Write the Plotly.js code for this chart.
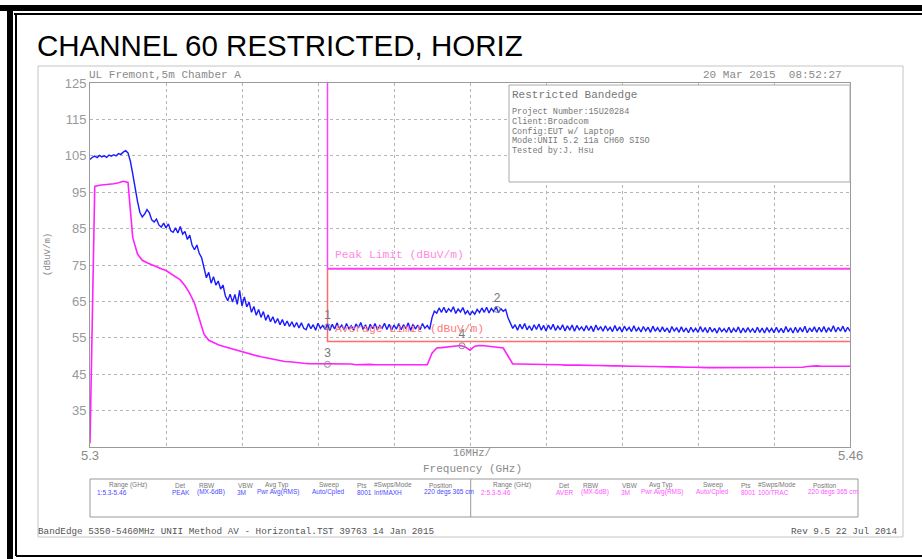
<!DOCTYPE html>
<html>
<head>
<meta charset="utf-8">
<script src="https://cdn.plot.ly/plotly-3.0.1.min.js"></script>
<style>html,body{margin:0;padding:0;background:#fff;}#chart{width:922px;height:559px;}</style>
</head>
<body>
<div id="chart"></div>
<script>
// ---------- DATA ----------
const sweepStartGHz = 5.300;
const peakStepGHz = 0.0005;
const avgStepGHz = 0.001;
const peakTrace = [
104.0,104.6,104.9,104.5,105.1,104.7,105.0,104.6,105.2,104.9,105.3,105.0,105.6,105.4,106.0,106.4,
105.8,103.5,100.0,96.0,92.5,89.5,88.2,89.0,90.2,89.3,
87.4,86.8,87.6,86.0,85.4,86.5,85.2,86.3,84.4,84.0,
85.2,83.8,85.6,83.5,84.2,82.0,83.2,80.4,79.2,80.5,
78.2,77.0,74.5,71.5,73.0,70.0,71.8,69.5,70.6,68.4,
69.5,66.5,65.2,67.0,64.8,66.9,64.2,68.0,63.8,66.2,
63.5,64.8,62.0,63.6,61.2,62.8,60.6,62.2,59.8,61.3,
59.4,60.8,59.0,60.3,58.6,60.0,58.3,59.6,58.1,59.4,
57.9,59.2,57.7,59.1,57.6,
57.2,58.9,57.5,58.6,57.1,59.0,57.6,58.4,57.3,58.8,
57.0,58.7,57.4,59.1,57.6,58.5,57.2,58.9,57.5,58.3,
57.1,58.8,57.7,59.2,57.3,58.6,57.0,58.7,57.5,58.9,
57.2,58.4,57.6,59.0,57.3,58.7,57.1,58.5,57.4,58.9,
57.2,58.6,57.5,59.1,57.0,58.8,57.4,58.5,57.2,58.9,
57.6,58.4,57.3,
60.5,62.3,
61.8,63.2,62.0,63.4,61.9,63.0,62.2,63.5,61.7,62.9,
62.1,63.3,61.6,62.4,61.2,62.3,61.5,62.8,61.9,63.2,
62.0,63.4,61.8,63.1,62.2,63.5,61.9,63.0,62.3,62.8,
60.5,58.8,57.6,
58.6,57.1,58.7,57.4,58.9,57.2,58.3,57.0,58.6,57.3,
58.8,57.1,58.4,56.9,58.5,57.3,58.7,57.0,58.2,57.2,
58.6,56.9,58.3,57.1,58.5,56.8,58.4,57.2,58.0,56.9,
58.4,57.0,58.2,56.7,58.5,57.1,58.1,56.8,58.3,57.0,
57.9,56.7,58.4,56.9,58.0,56.6,58.2,57.0,57.9,56.7,
58.3,56.8,57.8,56.6,58.1,56.9,57.9,56.5,58.2,56.8,
57.8,56.6,58.0,56.7,57.7,56.4,58.1,56.8,57.8,56.5,
58.0,56.6,57.7,56.4,57.9,56.7,57.6,56.5,58.1,56.6,
57.8,56.4,57.9,56.6,57.6,56.3,57.8,56.7,57.5,56.5,
57.9,56.4,57.6,56.6,58.0,56.3,57.7,56.5,57.8,56.6,
57.5,56.4,57.9,56.5,57.7,56.3,57.8,56.6,57.6,56.4,
57.9,56.5,57.6,56.4,58.1,56.6,57.7,56.3,57.9,56.5,
57.8,56.6,58.2,56.4,57.7,56.7,58.0,56.5,57.9,56.6,
58.1,56.5,57.8,56.7,58.3,56.6,57.9,56.8,58.2,56.6,
57.9,56.8];
const avgTrace = [
26.0,96.6,96.9,97.0,97.1,97.3,97.6,98.0,97.7,82.5,
78.0,76.3,75.6,75.0,74.5,74.0,73.5,72.6,71.8,70.9,
69.3,67.2,64.5,60.0,56.0,54.3,53.6,53.1,52.7,52.3,
51.9,51.5,51.2,50.9,50.5,50.1,49.8,49.5,49.2,48.9,
48.7,48.5,48.4,48.2,48.1,48.0,47.9,47.9,47.8,47.9,
47.8,47.7,47.8,47.7,47.7,47.8,47.6,47.7,47.6,47.7,
47.6,47.6,47.7,47.5,47.6,47.6,47.5,47.6,47.5,47.6,
47.5,47.6,50.8,52.2,52.3,52.5,52.6,52.8,52.9,52.5,
51.6,52.7,52.9,52.8,52.7,52.5,52.4,52.2,50.0,47.8,
47.8,47.8,47.7,47.8,47.7,47.7,47.6,47.7,47.6,47.6,
47.5,47.6,47.5,47.5,47.4,47.5,47.4,47.4,47.3,47.4,
47.3,47.3,47.2,47.3,47.2,47.2,47.1,47.2,47.1,47.1,
47.0,47.1,47.0,47.0,46.9,47.0,46.9,46.9,46.8,46.9,
46.8,46.8,46.8,46.9,46.7,46.8,46.7,46.8,46.7,46.7,
46.8,46.7,46.7,46.8,46.7,46.7,46.8,46.7,46.8,46.8,
46.9,47.1,47.3,47.3,47.2,47.3,47.2,47.2,47.3,47.2,
47.2];
const bandEdgeGHz = 5.35;
const stopGHz = 5.46;
const peakLimit = 74;
const avgLimit = 54;
const markerLabels = ["1","2","3","4"];
const markerFreq = [5.350, 5.3857, 5.350, 5.3783];
const markerLevel = [58.0, 62.8, 47.7, 52.8];
const yTickVals = [35,45,55,65,75,85,95,105,115,125];
const xGridVals = [5.3,5.316,5.332,5.348,5.364,5.38,5.396,5.412,5.428,5.444,5.46];
const xEndLabels = ["5.3","5.46"];
const xEndVals = [5.3,5.46];
const tableHeaders = ["Range (GHz)","Det","RBW","VBW","Avg Typ","Sweep","Pts","#Swps/Mode","Position"];
const tableRow1 = ["1:5.3-5.46","PEAK","(MX-6dB)","3M","Pwr Avg(RMS)","Auto/Cpled","8001","Inf/MAXH","220 degs 365 cm"];
const tableRow2 = ["2:5.3-5.46","AVER","(MX-6dB)","3M","Pwr Avg(RMS)","Auto/Cpled","8001","100/TRAC","220 degs 365 cm"];
const infoLines = ["Project Number:15U20284","Client:Broadcom","Config:EUT w/ Laptop","Mode:UNII 5.2 11a CH60 SISO","Tested by:J. Hsu"];

// ---------- BUILD ----------
const freqsPeak = peakTrace.map((_, i) => +(sweepStartGHz + i*peakStepGHz).toFixed(5));
const freqsAvg = avgTrace.map((_, i) => +(sweepStartGHz + i*avgStepGHz).toFixed(5));

const L=90, R=850, T=83, B=447;
const px = v => (v-L)/(R-L);
const py = v => (B-v)/(B-T);

const MONO = "Liberation Mono, DejaVu Sans Mono, monospace";
const SANS = "Liberation Sans, Arial, sans-serif";
const GRAY = "#8a8a8a";

const traces = [
  {x:[bandEdgeGHz,bandEdgeGHz], y:[125,peakLimit], mode:"lines", line:{color:"#ff40ff",width:1.5}, hoverinfo:"skip"},
  {x:[bandEdgeGHz,bandEdgeGHz,stopGHz], y:[peakLimit,avgLimit,avgLimit], mode:"lines", line:{color:"#ff6b6b",width:1.5}, hoverinfo:"skip"},
  {x:[bandEdgeGHz,stopGHz], y:[peakLimit,peakLimit], mode:"lines", line:{color:"#ff40f0",width:2}, hoverinfo:"skip"},
  {x:freqsAvg, y:avgTrace, mode:"lines", line:{color:"#ff22ff",width:1.6}},
  {x:freqsPeak, y:peakTrace, mode:"lines", line:{color:"#1a1aff",width:1.4}},
  {x:markerFreq, y:markerLevel, mode:"markers+text", text:markerLabels, textposition:"top center",
   textfont:{family:SANS,size:12,color:"#777"},
   marker:{symbol:"circle-open",size:6,color:"#888",line:{width:1}}}
];

const ann = [];
function A(text,x,y,opt){ ann.push(Object.assign({text:text,x:x,y:y,xref:"paper",yref:"paper",showarrow:false,xanchor:"left",yanchor:"middle",font:{family:MONO,size:10,color:GRAY}},opt||{})); }

A("CHANNEL 60 RESTRICTED, HORIZ", px(35), py(46), {font:{family:SANS,size:29.5,color:"#000"}});
A("UL Fremont,5m Chamber A", px(87), py(75), {font:{family:MONO,size:11,color:GRAY}});
A("20 Mar 2015  08:52:27", px(844), py(75), {xanchor:"right", font:{family:MONO,size:11,color:GRAY}});
A("Restricted Bandedge", px(510), py(95), {font:{family:MONO,size:11,color:"#777"}});
infoLines.forEach((t,i)=>A(t, px(510), py(112+i*9.8), {font:{family:MONO,size:8.5,color:"#777"}}));
A("(dBuV/m)", px(48), py(255), {xanchor:"center", textangle:-90, font:{family:MONO,size:9,color:GRAY}});
xEndLabels.forEach((t,i)=>ann.push({text:t,x:xEndVals[i],y:py(455),xref:"x",yref:"paper",showarrow:false,
  xanchor:"center",yanchor:"middle",font:{family:SANS,size:13,color:GRAY}}));
A("16MHz/", px(472), py(453), {xanchor:"center", font:{family:MONO,size:10.5,color:GRAY}});
A("Frequency (GHz)", px(472), py(469), {xanchor:"center", font:{family:MONO,size:11,color:GRAY}});
ann.push({text:"Peak Limit (dBuV/m)", x:bandEdgeGHz+0.0012, y:peakLimit+3.7, xref:"x", yref:"y", showarrow:false, xanchor:"left", yanchor:"middle", font:{family:MONO,size:11.3,color:"#ff8ae0"}});
ann.push({text:"Average Limit (dBuV/m)", x:bandEdgeGHz+0.0012, y:avgLimit+3.3, xref:"x", yref:"y", showarrow:false, xanchor:"left", yanchor:"middle", font:{family:MONO,size:11.3,color:"#ff7a7a"}});

// table
const colL = [95,170,195,235,255,310,355,372,422];
const colH = [107,173,197,236,263,317,355,372,427];
const offR = 384;
tableHeaders.forEach((t,i)=>{
  A(t, px(colH[i]), py(485), {font:{family:SANS,size:6.5,color:"#777"}});
  A(t, px(colH[i]+offR), py(485), {font:{family:SANS,size:6.5,color:"#777"}});
});
tableRow1.forEach((t,i)=>A(t, px(colL[i]), py(492), {font:{family:SANS,size:6.5,color:"#4a4aff"}}));
tableRow2.forEach((t,i)=>A(t, px(colL[i]+offR), py(492), {font:{family:SANS,size:6.5,color:"#ff55ff"}}));

A("BandEdge 5350-5460MHz UNII Method AV - Horizontal.TST 39763 14 Jan 2015", px(36), py(531), {font:{family:MONO,size:9.3,color:"#555"}});
A("Rev 9.5 22 Jul 2014", px(899), py(531), {xanchor:"right", font:{family:MONO,size:9.3,color:"#555"}});

function rect(x0,y0,x1,y1,color,width,fill){
  return {type:"rect",xref:"paper",yref:"paper",x0:px(x0),x1:px(x1),y0:py(y0),y1:py(y1),
    line:{color:color,width:width},fillcolor:fill||"rgba(0,0,0,0)",layer:"above"};
}
function line(x0,y0,x1,y1,color,width){
  return {type:"line",xref:"paper",yref:"paper",x0:px(x0),x1:px(x1),y0:py(y0),y1:py(y1),line:{color:color,width:width},layer:"above"};
}
const shapes = [
  line(0,8,922,8,"#000",6),
  line(10,5,10,559,"#000",6),
  line(14,14,922,14,"#000",2),
  line(16,14,16,556,"#000",2),
  line(16,556,922,556,"#000",2),
  rect(38,66,903,537,"#c4c4c4",1),
  rect(509,85,850,182,"#aaa",1,"#fff"),
  rect(90,479,858,517,"#999",1),
  line(470.7,479,470.7,517,"#999",1)
];

const layout = {
  width:922, height:559, autosize:false,
  margin:{l:L,r:922-R,t:T,b:559-B,pad:0},
  paper_bgcolor:"#fff", plot_bgcolor:"#fff",
  showlegend:false,
  xaxis:{range:[5.3,5.46], tickvals:xGridVals, showticklabels:false, ticks:"",
    showgrid:true, gridcolor:"#b5b5b5", griddash:"dot", gridwidth:1,
    showline:true, mirror:true, linecolor:"#9a9a9a", linewidth:1, zeroline:false, fixedrange:true},
  yaxis:{range:[25,125], tickvals:yTickVals, ticktext:yTickVals.map(String), ticks:"",
    tickfont:{family:SANS,size:13,color:"#999"},
    showgrid:true, gridcolor:"#b5b5b5", griddash:"dot", gridwidth:1,
    showline:true, mirror:true, linecolor:"#9a9a9a", linewidth:1, zeroline:false, fixedrange:true},
  annotations:ann,
  shapes:shapes
};
Plotly.newPlot("chart", traces, layout, {displayModeBar:false, staticPlot:true});
</script>
</body>
</html>
